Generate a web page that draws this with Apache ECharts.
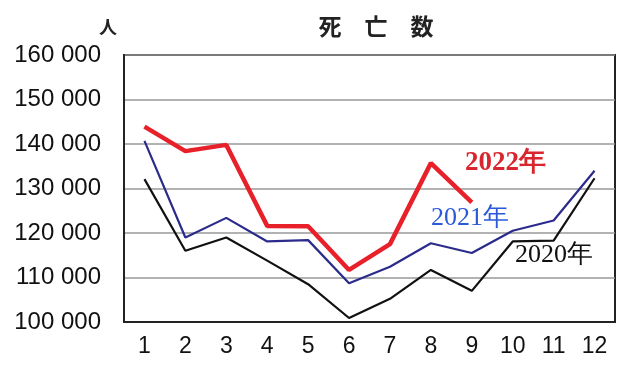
<!DOCTYPE html>
<html><head><meta charset="utf-8">
<script src="https://cdn.jsdelivr.net/npm/echarts@6/dist/echarts.min.js"></script>
<style>html,body{margin:0;padding:0;background:#fff;}#c{width:640px;height:368px;}</style>
</head><body><div id="c"></div>
<script>
const months = ['1','2','3','4','5','6','7','8','9','10','11','12'];
const d2022 = [143900, 138400, 139800, 121600, 121500, 111700, 117500, 135700, 126900];
const d2021 = [140700, 119000, 123400, 118100, 118400, 108700, 112400, 117700, 115500, 120500, 122800, 134000];
const d2020 = [132100, 116000, 119000, 113800, 108500, 100900, 105200, 111700, 107000, 118100, 118300, 132300];
const yMin = 100000, yMax = 160000, yStep = 10000;

const chart = echarts.init(document.getElementById('c'), null, {renderer: 'canvas'});
chart.setOption({
  animation: false,
  backgroundColor: '#fff',
  title: {
    text: '死　亡　数', left: 371, top: 10, textAlign: 'center',
    textStyle: {fontFamily: 'Noto Sans CJK JP', fontSize: 23, fontWeight: 'bold', color: '#222'}
  },
  grid: {left: 124, right: 25, top: 55, bottom: 46, show: true, borderColor: '#222', borderWidth: 2},
  xAxis: {
    type: 'category', data: months, boundaryGap: true,
    axisLine: {lineStyle: {color: '#222', width: 2}},
    axisTick: {inside: true, length: 6, lineStyle: {color: '#222', width: 1.5}},
    axisLabel: {fontFamily: 'Liberation Sans', fontSize: 23, color: '#111', margin: 13}
  },
  yAxis: {
    type: 'value', min: yMin, max: yMax, interval: yStep,
    axisLine: {show: true, lineStyle: {color: '#222', width: 2}},
    axisTick: {show: false},
    splitLine: {lineStyle: {color: '#999', width: 1.5}},
    axisLabel: {
      fontFamily: 'Liberation Sans', fontSize: 24, color: '#111', margin: 23,
      formatter: v => { const s = String(v); return s.slice(0, s.length - 3) + ' ' + s.slice(-3); }
    }
  },
  graphic: [
    {type: 'text', left: 99, top: 18, style: {text: '人', fontFamily: 'Noto Sans CJK JP', fontSize: 18, fontWeight: 'bold', fill: '#222'}},
    {type: 'text', left: 465, top: 150, style: {text: '2022年', fontFamily: 'Liberation Serif', fontSize: 27, fontWeight: 'bold', fill: '#d9262e'}},
    {type: 'text', left: 431, top: 205, style: {text: '2021年', fontFamily: 'Liberation Serif', fontSize: 26, fill: '#2a5ad8'}},
    {type: 'text', left: 515, top: 242, style: {text: '2020年', fontFamily: 'Liberation Serif', fontSize: 26, fill: '#111'}}
  ],
  series: [
    {name: '2020', type: 'line', data: d2020, symbol: 'none', lineStyle: {color: '#111', width: 2.2}, z: 3},
    {name: '2021', type: 'line', data: d2021, symbol: 'none', lineStyle: {color: '#2b2b8c', width: 2.2}, z: 4},
    {name: '2022', type: 'line', data: d2022, symbol: 'none', lineStyle: {color: '#e8202a', width: 4.5}, z: 5}
  ]
});
</script></body></html>
